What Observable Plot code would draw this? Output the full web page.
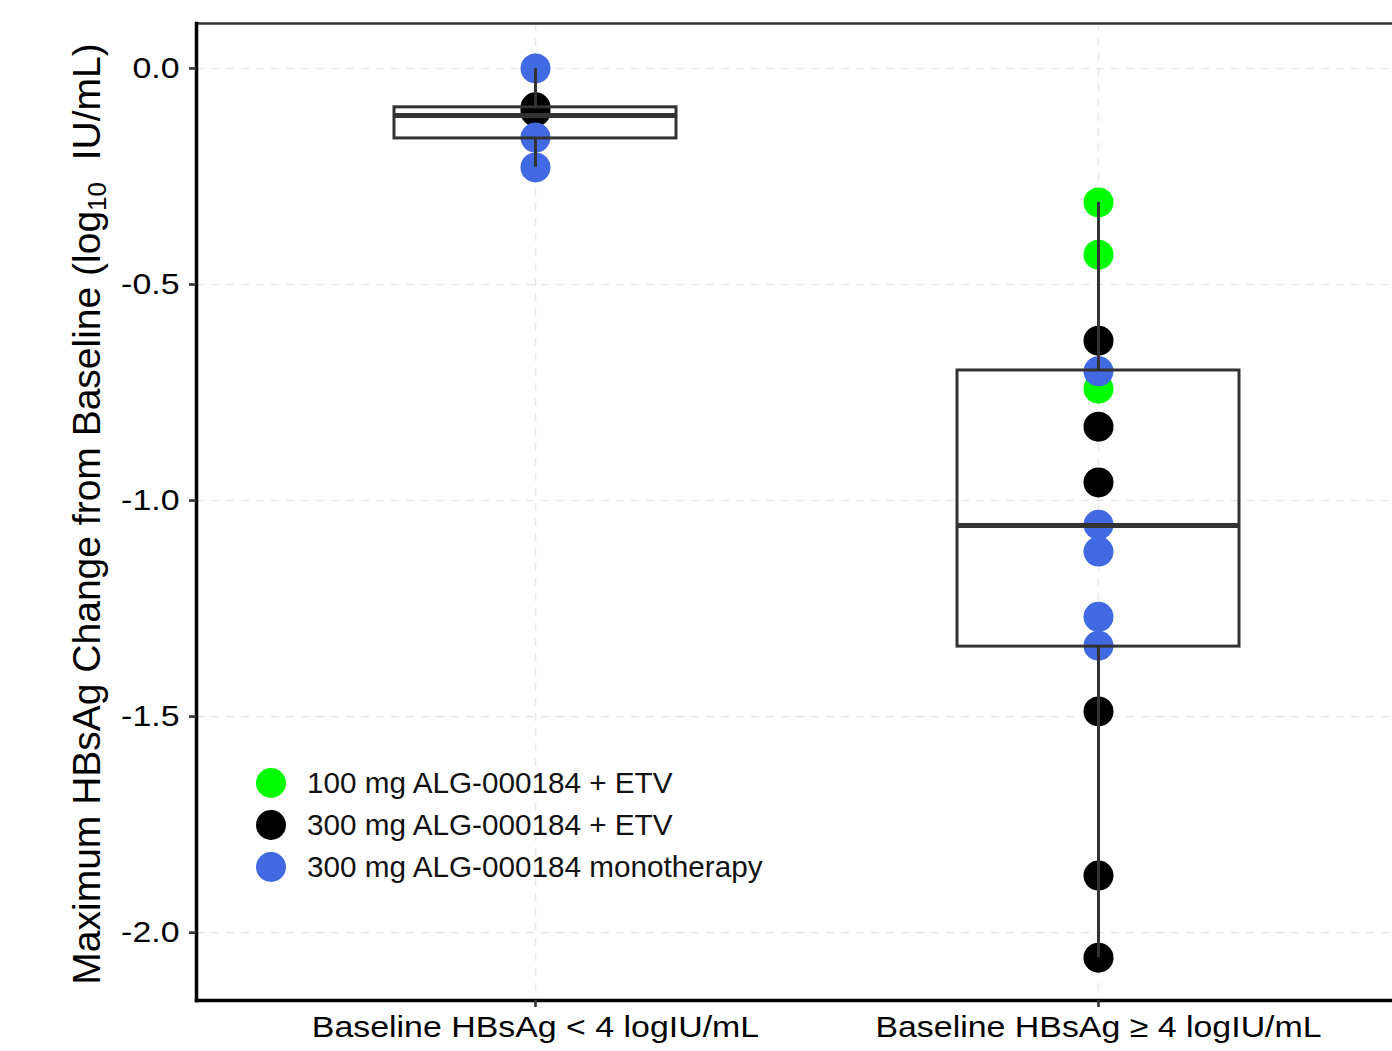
<!DOCTYPE html>
<html>
<head>
<meta charset="utf-8">
<script src="https://cdn.jsdelivr.net/npm/d3@7"></script>
<script src="https://cdn.jsdelivr.net/npm/@observablehq/plot@0.6"></script>
<style>
  html, body { margin: 0; padding: 0; background: #fff; overflow: hidden; }
  #wrap { position: relative; width: 1440px; height: 1051px; font-family: "Liberation Sans", Arial, sans-serif; }
  #ytitle { position: absolute; left: 86px; top: 514px; transform: translate(-50%, -50%) rotate(-90deg);
            white-space: nowrap; font-size: 39px; line-height: 1; color: #000; }
  #ytitle sub { font-size: 26px; vertical-align: -6px; line-height: 0; }
  #legend { position: absolute; left: 256px; top: 762px; font-size: 29.7px; color: #111; }
  .row { display: flex; align-items: center; height: 42px; }
  .sw { width: 30px; height: 30px; border-radius: 50%; margin-right: 21px; flex: none; }
</style>
</head>
<body>
<div id="wrap">
  <div id="chart"></div>
  <div id="ytitle">Maximum HBsAg Change from Baseline (log<sub>10</sub>&nbsp; IU/mL)</div>
  <div id="legend"></div>
</div>
<script>
// ---- data ----
const groups = ["Baseline HBsAg < 4 logIU/mL", "Baseline HBsAg \u2265 4 logIU/mL"];
const treatments = ["100 mg ALG-000184 + ETV", "300 mg ALG-000184 + ETV", "300 mg ALG-000184 monotherapy"];
const treatmentColors = ["#00ff00", "#000000", "#4169e1"];

// individual patient values (log10 IU/mL), by group and treatment
const lowGreen = [];
const lowBlack = [-0.090, -0.100];
const lowBlue = [0.000, -0.160, -0.229];
const highGreen = [-0.310, -0.431, -0.741];
const highBlack = [-0.630, -0.829, -0.958, -1.488, -1.868, -2.058];
const highBlue = [-0.701, -1.056, -1.118, -1.269, -1.336];

// box statistics [lower whisker, Q1, median, Q3, upper whisker]
const boxLow = [-0.229, -0.162, -0.109, -0.090, 0.000];
const boxHigh = [-2.058, -1.338, -1.058, -0.699, -0.310];

const yTicks = [0.0, -0.5, -1.0, -1.5, -2.0];
const yDomain = [-2.157, 0.104];

// ---- build tables ----
const points = [];
[[lowGreen, lowBlack, lowBlue], [highGreen, highBlack, highBlue]].forEach((sets, gi) => {
  sets.forEach((vals, ti) => vals.forEach(v => points.push({group: groups[gi], treatment: treatments[ti], value: v})));
});
const boxes = [boxLow, boxHigh].map((b, gi) => ({group: groups[gi], lo: b[0], q1: b[1], med: b[2], q3: b[3], hi: b[4]}));
const whiskers = boxes.flatMap(b => [{group: b.group, y1: b.lo, y2: b.q1}, {group: b.group, y1: b.q3, y2: b.hi}]);

const boxStroke = "#333333";

const chart = Plot.plot({
  width: 1440,
  height: 1051,
  marginLeft: 196,
  marginRight: 3,
  marginTop: 23,
  marginBottom: 51,
  style: {fontFamily: "'Liberation Sans', Arial, sans-serif", background: "white", color: "#000"},
  x: {type: "band", domain: groups, paddingInner: 0.5, paddingOuter: 0.351, align: 0.5},
  y: {domain: yDomain},
  color: {domain: treatments, range: treatmentColors},
  marks: [
    Plot.ruleY(yTicks, {stroke: "#e9e9e9", strokeWidth: 1.6, strokeDasharray: "8,7"}),
    Plot.ruleX(groups, {stroke: "#e9e9e9", strokeWidth: 1.6, strokeDasharray: "8,7"}),
    Plot.dot(points, {x: "group", y: "value", fill: "treatment", r: 15}),
    Plot.ruleX(whiskers, {x: "group", y1: "y1", y2: "y2", stroke: boxStroke, strokeWidth: 3}),
    Plot.barY(boxes, {x: "group", y1: "q1", y2: "q3", fill: "none", stroke: boxStroke, strokeWidth: 3}),
    Plot.tickY(boxes, {x: "group", y: "med", stroke: boxStroke, strokeWidth: 5}),
    Plot.frame({stroke: "#333", strokeWidth: 2.5}),
    Plot.frame({anchor: "left", stroke: "#000", strokeWidth: 3.5}),
    Plot.frame({anchor: "bottom", stroke: "#000", strokeWidth: 3.5}),
    Plot.axisY(yTicks, {tickSize: 7, tickPadding: 10, tickFormat: d => d.toFixed(1), fontSize: 30,
                        stroke: "#333", strokeWidth: 2.6, fill: "#000", label: null}),
    Plot.axisX({tickSize: 7, tickPadding: 8, fontSize: 30, stroke: "#333", strokeWidth: 2.6, fill: "#000", label: null})
  ]
});
document.getElementById("chart").appendChild(chart);

// axis text in the reference is horizontally widened
d3.select(chart).selectAll('g[aria-label="x-axis tick label"] text, g[aria-label="y-axis tick label"] text')
  .attr("transform", function() { return (this.getAttribute("transform") || "") + " scale(1.13,1)"; });

// legend
const legend = d3.select("#legend");
treatments.forEach((t, i) => {
  const row = legend.append("div").attr("class", "row");
  row.append("div").attr("class", "sw").style("background", treatmentColors[i]);
  row.append("span").text(t);
});
</script>
</body>
</html>
